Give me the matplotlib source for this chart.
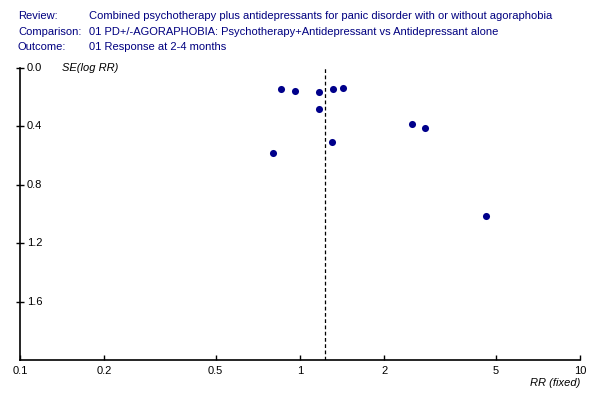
import matplotlib
matplotlib.use("Agg")
import matplotlib.pyplot as plt
import numpy as np

# Data
rr = [0.857, 0.962, 1.172, 1.315, 1.428, 1.172, 2.52, 2.80, 1.304, 0.803, 4.63]
se = [0.146, 0.160, 0.167, 0.146, 0.139, 0.283, 0.386, 0.413, 0.509, 0.584, 1.014]
pooled_rr = 1.23
x_ticks = [0.1, 0.2, 0.5, 1, 2, 5, 10]
x_tick_labels = ["0.1", "0.2", "0.5", "1", "2", "5", "10"]
y_ticks = [0.0, 0.4, 0.8, 1.2, 1.6]
y_tick_labels = ["0.0", "0.4", "0.8", "1.2", "1.6"]
header_keys = ["Review:", "Comparison:", "Outcome:"]
header_vals = ["Combined psychotherapy plus antidepressants for panic disorder with or without agoraphobia",
               "01 PD+/-AGORAPHOBIA: Psychotherapy+Antidepressant vs Antidepressant alone",
               "01 Response at 2-4 months"]

plt.rcParams['font.family'] = ['Liberation Sans', 'DejaVu Sans']
fig = plt.figure(figsize=(6, 4), dpi=100)
ax = fig.add_axes([20/600, 0.10, 560/600, 0.73])

ax.set_xscale('log')
ax.set_xlim(0.1, 10)
ax.set_ylim(2.0, 0.0)

ax.scatter(rr, se, s=26, color='#00008B', zorder=3, linewidths=0)
ax.axvline(pooled_rr, color='black', lw=0.9, ls=(0, (3, 2)))

for s in ['top', 'right']:
    ax.spines[s].set_visible(False)
for s in ['left', 'bottom']:
    ax.spines[s].set_linewidth(1.2)

ax.set_xticks(x_ticks)
ax.set_xticklabels(x_tick_labels, fontsize=8)
ax.xaxis.set_minor_locator(matplotlib.ticker.NullLocator())
ax.tick_params(axis='x', direction='in', length=3.5, width=1, pad=4.5)

ax.set_yticks(y_ticks)
ax.set_yticklabels([])
ax.tick_params(axis='y', direction='inout', length=6, width=1)
trans = matplotlib.transforms.blended_transform_factory(ax.transAxes, ax.transData)
for v, lab in zip(y_ticks, y_tick_labels):
    ax.text(0.0125, v, lab, transform=trans, ha='left', va='center', fontsize=8)

ax.text(0.0745, 0.0, "SE(log RR)", transform=trans, ha='left', va='center', fontsize=8, style='italic')
ax.text(1.0, -0.079, "RR (fixed)", transform=ax.transAxes, ha='right', va='center', fontsize=8, style='italic')

ys = [16, 32, 47]
for k, v, y in zip(header_keys, header_vals, ys):
    fig.text(18/600, 1 - y/400, k, ha='left', va='center', fontsize=8, color='#000080')
    fig.text(89/600, 1 - y/400, v, ha='left', va='center', fontsize=8, color='#000080')

fig.savefig("out.png", dpi=100)
